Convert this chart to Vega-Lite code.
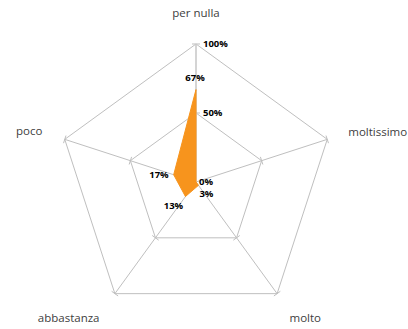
{
  "$schema": "https://vega.github.io/schema/vega-lite/v6.json",
  "width": 408,
  "height": 329,
  "padding": 0,
  "autosize": {"type": "none"},
  "background": "white",
  "config": {"view": {"stroke": null}},
  "datasets": {
    "survey": [
      {"cat": "per nulla", "value": 0.67, "idx": 0},
      {"cat": "moltissimo", "value": 0.0, "idx": 1},
      {"cat": "molto", "value": 0.03, "idx": 2},
      {"cat": "abbastanza", "value": 0.13, "idx": 3},
      {"cat": "poco", "value": 0.17, "idx": 4}
    ]
  },
  "data": {"name": "survey"},
  "transform": [{"calculate": "datum.idx * 2 * PI / 5", "as": "ang"}],
  "encoding": {
    "x": {"field": "px", "type": "quantitative", "scale": {"domain": [-1.4203, 1.5362], "nice": false, "zero": false}, "axis": null},
    "y": {"field": "py", "type": "quantitative", "scale": {"domain": [-1.0652, 1.3188], "nice": false, "zero": false}, "axis": null}
  },
  "layer": [
    {
      "transform": [
        {"calculate": "[0.5, 1]", "as": "level"},
        {"flatten": ["level"]},
        {"calculate": "datum.level * sin(datum.ang)", "as": "px"},
        {"calculate": "datum.level * cos(datum.ang)", "as": "py"}
      ],
      "mark": {"type": "line", "interpolate": "linear-closed", "stroke": "#BFBFBF", "strokeWidth": 1},
      "encoding": {"detail": {"field": "level", "type": "nominal"}, "order": {"field": "idx", "type": "quantitative"}}
    },
    {
      "transform": [
        {"filter": "datum.idx > 0"},
        {"calculate": "0", "as": "px"},
        {"calculate": "0", "as": "py"},
        {"calculate": "sin(datum.ang)", "as": "px2"},
        {"calculate": "cos(datum.ang)", "as": "py2"}
      ],
      "mark": {"type": "rule", "stroke": "#BFBFBF", "strokeWidth": 1},
      "encoding": {"x2": {"field": "px2"}, "y2": {"field": "py2"}}
    },
    {
      "transform": [
        {"filter": "datum.idx == 0"},
        {"calculate": "0", "as": "px"},
        {"calculate": "0", "as": "py"},
        {"calculate": "sin(datum.ang)", "as": "px2"},
        {"calculate": "cos(datum.ang)", "as": "py2"}
      ],
      "mark": {"type": "rule", "stroke": "#D4D4D4", "strokeWidth": 2},
      "encoding": {"x2": {"field": "px2"}, "y2": {"field": "py2"}}
    },
    {
      "transform": [
        {"calculate": "[0.5, 1]", "as": "level"},
        {"flatten": ["level"]},
        {"calculate": "datum.level * sin(datum.ang) - 0.029 * cos(datum.ang)", "as": "px"},
        {"calculate": "datum.level * cos(datum.ang) + 0.029 * sin(datum.ang)", "as": "py"},
        {"calculate": "datum.level * sin(datum.ang) + 0.029 * cos(datum.ang)", "as": "px2"},
        {"calculate": "datum.level * cos(datum.ang) - 0.029 * sin(datum.ang)", "as": "py2"}
      ],
      "mark": {"type": "rule", "stroke": "#BFBFBF", "strokeWidth": 1},
      "encoding": {"x2": {"field": "px2"}, "y2": {"field": "py2"}}
    },
    {
      "transform": [
        {"calculate": "datum.value * sin(datum.ang)", "as": "px"},
        {"calculate": "datum.value * cos(datum.ang)", "as": "py"}
      ],
      "mark": {"type": "line", "interpolate": "linear-closed", "fill": "#F7941D", "stroke": "#F7941D", "strokeWidth": 1},
      "encoding": {"order": {"field": "idx", "type": "quantitative"}}
    },
    {
      "transform": [
        {"filter": "datum.idx == 0"},
        {"calculate": "[0.5, 1]", "as": "level"},
        {"flatten": ["level"]},
        {"calculate": "0", "as": "px"},
        {"calculate": "datum.level", "as": "py"},
        {"calculate": "format(datum.level, '.0%')", "as": "lab"}
      ],
      "mark": {"type": "text", "align": "left", "baseline": "middle", "dx": 7, "font": "Open Sans", "fontWeight": "bold", "fontSize": 9.5, "color": "#000000"},
      "encoding": {"text": {"field": "lab"}}
    },
    {
      "transform": [
        {"filter": "datum.idx == 0"},
        {"calculate": "1.217 * sin(datum.ang)", "as": "px"},
        {"calculate": "1.217 * cos(datum.ang)", "as": "py"}
      ],
      "mark": {"type": "text", "align": "center", "baseline": "middle", "font": "Open Sans", "fontSize": 11.5, "color": "#404040"},
      "encoding": {"text": {"field": "cat"}}
    },
    {
      "transform": [
        {"filter": "datum.idx == 1"},
        {"calculate": "1.16 * sin(datum.ang)", "as": "px"},
        {"calculate": "1.16 * cos(datum.ang)", "as": "py"}
      ],
      "mark": {"type": "text", "align": "left", "baseline": "middle", "font": "Open Sans", "fontSize": 11.5, "color": "#404040"},
      "encoding": {"text": {"field": "cat"}}
    },
    {
      "transform": [
        {"filter": "datum.idx == 4"},
        {"calculate": "1.17 * sin(datum.ang)", "as": "px"},
        {"calculate": "1.17 * cos(datum.ang)", "as": "py"}
      ],
      "mark": {"type": "text", "align": "right", "baseline": "middle", "font": "Open Sans", "fontSize": 11.5, "color": "#404040"},
      "encoding": {"text": {"field": "cat"}}
    },
    {
      "transform": [
        {"filter": "datum.idx == 2"},
        {"calculate": "1.227 * sin(datum.ang)", "as": "px"},
        {"calculate": "1.227 * cos(datum.ang)", "as": "py"}
      ],
      "mark": {"type": "text", "align": "left", "baseline": "middle", "dx": -6, "font": "Open Sans", "fontSize": 11.5, "color": "#404040"},
      "encoding": {"text": {"field": "cat"}}
    },
    {
      "transform": [
        {"filter": "datum.idx == 3"},
        {"calculate": "1.227 * sin(datum.ang)", "as": "px"},
        {"calculate": "1.227 * cos(datum.ang)", "as": "py"}
      ],
      "mark": {"type": "text", "align": "right", "baseline": "middle", "dx": 3, "font": "Open Sans", "fontSize": 11.5, "color": "#404040"},
      "encoding": {"text": {"field": "cat"}}
    },
    {
      "transform": [
        {"filter": "datum.idx == 0"},
        {"calculate": "datum.value * sin(datum.ang)", "as": "px"},
        {"calculate": "datum.value * cos(datum.ang)", "as": "py"}
      ],
      "mark": {"type": "text", "align": "center", "baseline": "middle", "dx": -1, "dy": -12, "font": "Open Sans", "fontWeight": "bold", "fontSize": 9.5, "color": "#000000"},
      "encoding": {"text": {"field": "value", "type": "quantitative", "format": ".0%"}}
    },
    {
      "transform": [
        {"filter": "datum.idx == 1"},
        {"calculate": "datum.value * sin(datum.ang)", "as": "px"},
        {"calculate": "datum.value * cos(datum.ang)", "as": "py"}
      ],
      "mark": {"type": "text", "align": "left", "baseline": "middle", "dx": 3, "font": "Open Sans", "fontWeight": "bold", "fontSize": 9.5, "color": "#000000"},
      "encoding": {"text": {"field": "value", "type": "quantitative", "format": ".0%"}}
    },
    {
      "transform": [
        {"filter": "datum.idx == 2"},
        {"calculate": "datum.value * sin(datum.ang)", "as": "px"},
        {"calculate": "datum.value * cos(datum.ang)", "as": "py"}
      ],
      "mark": {"type": "text", "align": "center", "baseline": "middle", "dx": 8, "dy": 9, "font": "Open Sans", "fontWeight": "bold", "fontSize": 9.5, "color": "#000000"},
      "encoding": {"text": {"field": "value", "type": "quantitative", "format": ".0%"}}
    },
    {
      "transform": [
        {"filter": "datum.idx == 3"},
        {"calculate": "datum.value * sin(datum.ang)", "as": "px"},
        {"calculate": "datum.value * cos(datum.ang)", "as": "py"}
      ],
      "mark": {"type": "text", "align": "center", "baseline": "middle", "dx": -12, "dy": 9, "font": "Open Sans", "fontWeight": "bold", "fontSize": 9.5, "color": "#000000"},
      "encoding": {"text": {"field": "value", "type": "quantitative", "format": ".0%"}}
    },
    {
      "transform": [
        {"filter": "datum.idx == 4"},
        {"calculate": "datum.value * sin(datum.ang)", "as": "px"},
        {"calculate": "datum.value * cos(datum.ang)", "as": "py"}
      ],
      "mark": {"type": "text", "align": "right", "baseline": "middle", "dx": -5, "font": "Open Sans", "fontWeight": "bold", "fontSize": 9.5, "color": "#000000"},
      "encoding": {"text": {"field": "value", "type": "quantitative", "format": ".0%"}}
    }
  ]
}
